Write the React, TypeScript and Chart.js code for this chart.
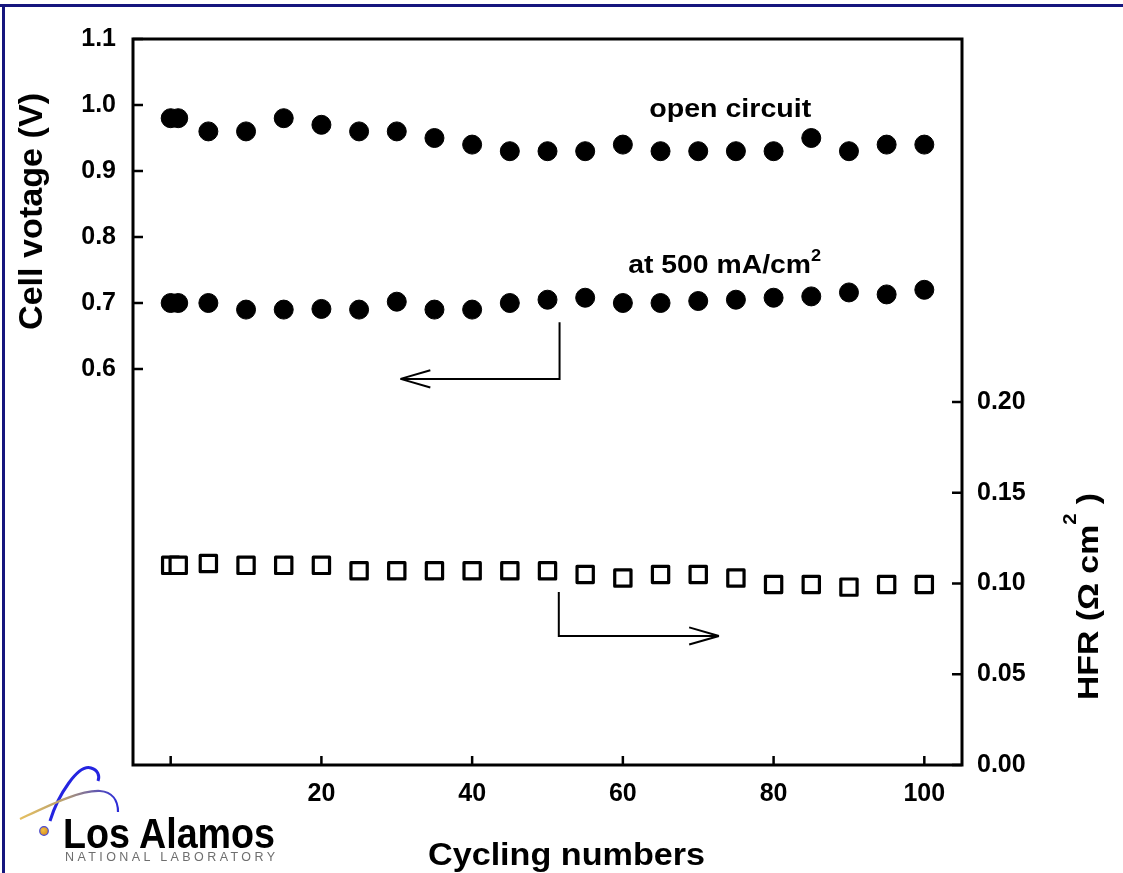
import React, { useEffect, useRef } from 'react';
import { Chart, registerables } from 'chart.js';

Chart.register(...registerables);

// ---- data ----
const CYCLES = [0, 1, 5, 10, 15, 20, 25, 30, 35, 40, 45, 50, 55, 60, 65, 70, 75, 80, 85, 90, 95, 100];
const OPEN_CIRCUIT_V = [0.98, 0.98, 0.96, 0.96, 0.98, 0.97, 0.96, 0.96, 0.95, 0.94, 0.93, 0.93, 0.93, 0.94, 0.93, 0.93, 0.93, 0.93, 0.95, 0.93, 0.94, 0.94];
const V_AT_500 = [0.70, 0.70, 0.70, 0.69, 0.69, 0.691, 0.69, 0.702, 0.69, 0.69, 0.70, 0.705, 0.708, 0.70, 0.70, 0.703, 0.705, 0.708, 0.71, 0.716, 0.713, 0.72];
const HFR = [0.110, 0.110, 0.111, 0.110, 0.110, 0.110, 0.107, 0.107, 0.107, 0.107, 0.107, 0.107, 0.105, 0.103, 0.105, 0.105, 0.103, 0.0995, 0.0995, 0.098, 0.0995, 0.0995];
const X_TICKS = [0, 20, 40, 60, 80, 100];
const V_TICKS = [0.6, 0.7, 0.8, 0.9, 1.0, 1.1];
const HFR_TICKS = [0, 0.05, 0.1, 0.15, 0.2];

const FONT = "'Liberation Sans', Arial, Helvetica, sans-serif";

type Seg = { text: string; size: number; rise?: number };

function drawSegments(ctx: CanvasRenderingContext2D, segs: Seg[], x: number, y: number, targetLen: number, rotate = 0) {
  ctx.save();
  let total = 0;
  const widths = segs.map((s) => {
    ctx.font = `bold ${s.size}px ${FONT}`;
    const w = ctx.measureText(s.text).width;
    total += w;
    return w;
  });
  ctx.translate(x, y);
  if (rotate) ctx.rotate(rotate);
  ctx.scale(targetLen / total, 1);
  ctx.fillStyle = '#000';
  ctx.textAlign = 'left';
  ctx.textBaseline = 'alphabetic';
  let cx = 0;
  segs.forEach((s, i) => {
    ctx.font = `bold ${s.size}px ${FONT}`;
    ctx.fillText(s.text, cx, -(s.rise || 0));
    cx += widths[i];
  });
  ctx.restore();
}

function drawArrow(ctx: CanvasRenderingContext2D, pts: [number, number][]) {
  ctx.save();
  ctx.strokeStyle = '#000';
  ctx.lineWidth = 2;
  ctx.lineCap = 'butt';
  ctx.lineJoin = 'miter';
  ctx.beginPath();
  ctx.moveTo(pts[0][0], pts[0][1]);
  for (let i = 1; i < pts.length; i++) ctx.lineTo(pts[i][0], pts[i][1]);
  ctx.stroke();
  const [x1, y1] = pts[pts.length - 2];
  const [x2, y2] = pts[pts.length - 1];
  const ang = Math.atan2(y2 - y1, x2 - x1);
  const L = 31;
  const spread = 0.28;
  ctx.beginPath();
  for (const s of [-1, 1]) {
    const a = ang + Math.PI + s * spread;
    ctx.moveTo(x2, y2);
    ctx.lineTo(x2 + L * Math.cos(a), y2 + L * Math.sin(a));
  }
  ctx.stroke();
  ctx.restore();
}

// annotation anchors in data units
const LEFT_ARROW = { x: 51.6, yFrom: 0.671, yTo: 0.585, xTip: 30.5 };
const RIGHT_ARROW = { x: 51.5, yFrom: 0.0953, yTo: 0.0711, xTip: 72.75 };
const OPEN_LABEL = { x: 63.5, y: 0.982 };
const AT500_LABEL = { x: 60.7, y: 0.7455 };

const framePlugin = {
  id: 'frame',
  beforeDatasetsDraw(chart: any) {
    const { ctx, chartArea } = chart;
    const { left, right, top, bottom } = chartArea;
    const xs = chart.scales.x;
    const ys = chart.scales.y;
    const y2 = chart.scales.y2;
    ctx.save();
    ctx.strokeStyle = '#000';
    ctx.lineWidth = 3;
    ctx.strokeRect(left, top, right - left, bottom - top);
    ctx.lineWidth = 2.5;
    ctx.beginPath();
    X_TICKS.forEach((v) => {
      const px = xs.getPixelForValue(v);
      ctx.moveTo(px, bottom);
      ctx.lineTo(px, bottom - 9);
    });
    V_TICKS.forEach((v) => {
      const py = ys.getPixelForValue(v);
      ctx.moveTo(left, py);
      ctx.lineTo(left + 10, py);
    });
    HFR_TICKS.forEach((v) => {
      const py = y2.getPixelForValue(v);
      ctx.moveTo(right, py);
      ctx.lineTo(right - 10, py);
    });
    ctx.stroke();
    ctx.restore();
    ctx.lineJoin = 'round';
  },
  afterDraw(chart: any) {
    const { ctx } = chart;
    const xs = chart.scales.x;
    const ys = chart.scales.y;
    const y2 = chart.scales.y2;

    drawArrow(ctx, [
      [xs.getPixelForValue(LEFT_ARROW.x), ys.getPixelForValue(LEFT_ARROW.yFrom)],
      [xs.getPixelForValue(LEFT_ARROW.x), ys.getPixelForValue(LEFT_ARROW.yTo)],
      [xs.getPixelForValue(LEFT_ARROW.xTip), ys.getPixelForValue(LEFT_ARROW.yTo)],
    ]);
    drawArrow(ctx, [
      [xs.getPixelForValue(RIGHT_ARROW.x), y2.getPixelForValue(RIGHT_ARROW.yFrom)],
      [xs.getPixelForValue(RIGHT_ARROW.x), y2.getPixelForValue(RIGHT_ARROW.yTo)],
      [xs.getPixelForValue(RIGHT_ARROW.xTip), y2.getPixelForValue(RIGHT_ARROW.yTo)],
    ]);

    drawSegments(ctx, [{ text: 'open circuit', size: 25 }],
      xs.getPixelForValue(OPEN_LABEL.x), ys.getPixelForValue(OPEN_LABEL.y), 162);
    drawSegments(ctx, [{ text: 'at 500 mA/cm', size: 25 }, { text: '2', size: 16, rise: 12 }],
      xs.getPixelForValue(AT500_LABEL.x), ys.getPixelForValue(AT500_LABEL.y), 193);

    drawSegments(ctx, [{ text: 'Cycling numbers', size: 32 }], 428, 865, 277);
    drawSegments(ctx, [{ text: 'Cell votage (V)', size: 34 }], 42, 330, 237, -Math.PI / 2);
    drawSegments(ctx, [
      { text: 'HFR (\u03A9 cm', size: 30 },
      { text: '2', size: 18, rise: 22 },
      { text: ' )', size: 30 },
    ], 1098, 700, 207, -Math.PI / 2);
  },
};

export default function App() {
  const canvasRef = useRef<HTMLCanvasElement | null>(null);

  useEffect(() => {
    const canvas = canvasRef.current;
    if (!canvas) return;
    const tickFont = { family: FONT, size: 25, weight: 'bold' as const };
    const chart = new Chart(canvas, {
      type: 'scatter',
      data: {
        datasets: [
          {
            label: 'open circuit',
            data: CYCLES.map((c, i) => ({ x: c, y: OPEN_CIRCUIT_V[i] })),
            yAxisID: 'y',
            pointStyle: 'circle',
            pointRadius: 9.5,
            pointBackgroundColor: '#000',
            pointBorderColor: '#000',
            pointBorderWidth: 1,
          },
          {
            label: 'at 500 mA/cm2',
            data: CYCLES.map((c, i) => ({ x: c, y: V_AT_500[i] })),
            yAxisID: 'y',
            pointStyle: 'circle',
            pointRadius: 9.5,
            pointBackgroundColor: '#000',
            pointBorderColor: '#000',
            pointBorderWidth: 1,
          },
          {
            label: 'HFR',
            data: CYCLES.map((c, i) => ({ x: c, y: HFR[i] })),
            yAxisID: 'y2',
            pointStyle: 'rect',
            pointRadius: 11.5,
            pointBackgroundColor: '#fff',
            pointBorderColor: '#000',
            pointBorderWidth: 3.2,
          },
        ],
      },
      options: {
        responsive: false,
        animation: false,
        events: [],
        layout: { padding: { top: 39, left: 0, right: 0, bottom: 0 } },
        plugins: { legend: { display: false }, tooltip: { enabled: false } },
        scales: {
          x: {
            type: 'linear',
            position: 'bottom',
            min: -5,
            max: 105,
            grid: { display: false, drawTicks: false },
            border: { display: false },
            afterBuildTicks: (s: any) => { s.ticks = X_TICKS.map((v) => ({ value: v })); },
            afterFit: (s: any) => { s.height = 108; },
            ticks: {
              color: '#000',
              font: tickFont,
              padding: 14,
              maxRotation: 0,
              autoSkip: false,
              callback: (v: any) => (Number(v) === 0 ? '' : String(v)),
            },
          },
          y: {
            type: 'linear',
            position: 'left',
            min: 0,
            max: 1.1,
            grid: { display: false, drawTicks: false },
            border: { display: false },
            afterBuildTicks: (s: any) => { s.ticks = V_TICKS.map((v) => ({ value: v })); },
            afterFit: (s: any) => { s.width = 133; },
            ticks: {
              color: '#000',
              font: tickFont,
              padding: 17,
              autoSkip: false,
              callback: (v: any) => Number(v).toFixed(1),
            },
          },
          y2: {
            type: 'linear',
            position: 'right',
            min: 0,
            max: 0.4,
            grid: { display: false, drawTicks: false },
            border: { display: false },
            afterBuildTicks: (s: any) => { s.ticks = HFR_TICKS.map((v) => ({ value: v })); },
            afterFit: (s: any) => { s.width = 161; },
            ticks: {
              color: '#000',
              font: tickFont,
              padding: 15,
              autoSkip: false,
              callback: (v: any) => Number(v).toFixed(2),
            },
          },
        },
      },
      plugins: [framePlugin],
    });
    return () => chart.destroy();
  }, []);

  return (
    <div style={{ position: 'fixed', left: 0, top: 0, width: 1123, height: 873, background: '#fff', overflow: 'hidden' }}>
      <canvas ref={canvasRef} width={1123} height={873} style={{ position: 'absolute', left: 0, top: 0, width: 1123, height: 873 }} />
      <svg width={1123} height={873} style={{ position: 'absolute', left: 0, top: 0, pointerEvents: 'none' }}>
        <defs>
          <linearGradient id="swoosh" x1="20" y1="0" x2="118" y2="0" gradientUnits="userSpaceOnUse">
            <stop offset="0" stopColor="#e6c060" />
            <stop offset="0.45" stopColor="#b8a070" />
            <stop offset="1" stopColor="#2a2ad8" />
          </linearGradient>
          <radialGradient id="dot" cx="0.4" cy="0.4" r="0.6">
            <stop offset="0" stopColor="#f4c040" />
            <stop offset="1" stopColor="#d89020" />
          </radialGradient>
        </defs>
        <rect x={0} y={4} width={1123} height={3} fill="#16167e" />
        <rect x={2} y={4} width={3} height={869} fill="#16167e" />
        <path d="M 50 821 C 58 795 78 764 91 768 C 98 770 100 776 98 781" fill="none" stroke="#2424e0" strokeWidth={3} />
        <path d="M 20 819 C 50 805 80 790 100 791 C 112 792 118 800 118 812" fill="none" stroke="url(#swoosh)" strokeWidth={2.2} />
        <circle cx={44} cy={831} r={4.3} fill="url(#dot)" stroke="#4a4ad0" strokeWidth={1.2} />
        <text x={63} y={848} fontFamily={FONT} fontWeight="bold" fontSize={43} fill="#000" textLength={212} lengthAdjust="spacingAndGlyphs">Los Alamos</text>
        <text x={65} y={861} fontFamily={FONT} fontSize={12.5} fill="#6e6e6e" textLength={210} lengthAdjust="spacing">NATIONAL LABORATORY</text>
      </svg>
    </div>
  );
}
